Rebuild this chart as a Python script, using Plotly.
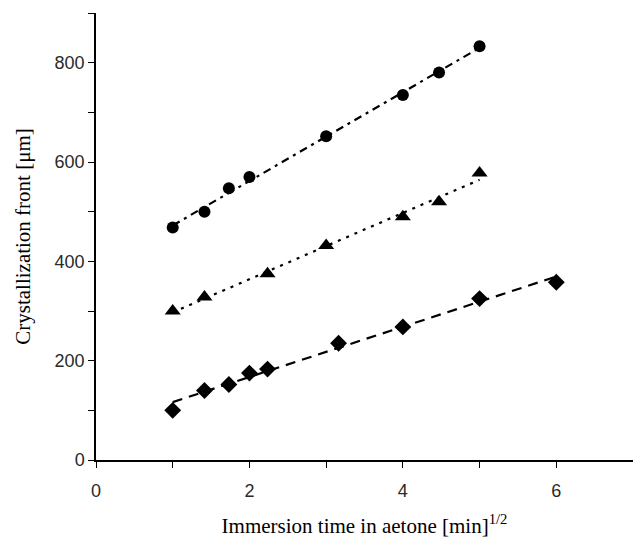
import numpy as np
import plotly.graph_objects as go

# Data
circle_x = [1.0, 1.414, 1.732, 2.0, 3.0, 4.0, 4.472, 5.0]
circle_y = [468, 500, 547, 570, 652, 735, 780, 833]

triangle_x = [1.0, 1.414, 2.236, 3.0, 4.0, 4.472, 5.0]
triangle_y = [300, 328, 375, 432, 490, 520, 578]

diamond_x = [1.0, 1.414, 1.732, 2.0, 2.236, 3.162, 4.0, 5.0, 6.0]
diamond_y = [100, 140, 152, 175, 183, 235, 268, 325, 358]

x_ticks = [0, 2, 4, 6]
y_ticks = [0, 200, 400, 600, 800]


def fit_line(xs, ys):
    k, b = np.polyfit(xs, ys, 1)
    xx = np.array([min(xs), max(xs)])
    return xx, k * xx + b


fig = go.Figure()

series = [
    (circle_x, circle_y, "circle", "8px,5px,3px,5px", 12),
    (triangle_x, triangle_y, "triangle-up", "3px,6px", 14),
    (diamond_x, diamond_y, "diamond", "10px,7px", 13),
]

for xs, ys, sym, dash, size in series:
    fx, fy = fit_line(xs, ys)
    fig.add_trace(go.Scatter(x=fx, y=fy, mode="lines",
                             line=dict(color="black", width=2.2, dash=dash),
                             showlegend=False, hoverinfo="skip"))
    fig.add_trace(go.Scatter(x=xs, y=ys, mode="markers",
                             marker=dict(symbol=sym, size=size, color="black"),
                             showlegend=False))

tick_font = dict(family="Liberation Sans, Arial, sans-serif", size=18, color="#2a2a2a")
title_font = dict(family="Liberation Serif, Times New Roman, serif", size=21, color="black")

fig.update_layout(
    width=633, height=549,
    margin=dict(l=96, r=0, t=13, b=89),
    paper_bgcolor="white", plot_bgcolor="white",
    xaxis=dict(
        range=[0, 7], tickvals=x_ticks, ticktext=[str(v) for v in x_ticks],
        showgrid=False, zeroline=False, showline=True, linecolor="black", linewidth=1.5,
        ticks="outside", ticklen=6, tickcolor="black", tickwidth=1.2,
        ticklabelstandoff=8,
        minor=dict(dtick=1, tick0=0, ticks="outside", ticklen=6, tickcolor="black", showgrid=False),
        tickfont=tick_font,
        title=dict(text="Immersion time in aetone [min]<sup>1/2</sup>", font=title_font, standoff=18),
    ),
    yaxis=dict(
        range=[0, 900], tickvals=y_ticks, ticktext=[str(v) for v in y_ticks],
        showgrid=False, zeroline=False, showline=True, linecolor="black", linewidth=1.5,
        ticks="outside", ticklen=6, tickcolor="black", tickwidth=1.2,
        minor=dict(dtick=100, tick0=0, ticks="outside", ticklen=6, tickcolor="black", showgrid=False),
        tickfont=tick_font,
        title=dict(text="Crystallization front [μm]", font=title_font, standoff=18),
    ),
)

fig.write_html("out.html", config={"displayModeBar": False},
               post_script="document.body.style.margin='0';")
